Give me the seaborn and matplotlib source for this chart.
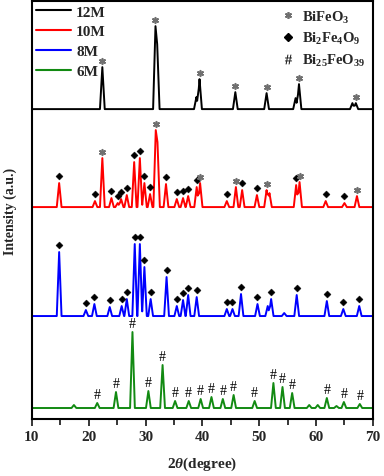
import numpy as np
import pandas as pd
import matplotlib
matplotlib.use("Agg")
import matplotlib.pyplot as plt
from matplotlib.lines import Line2D
import seaborn as sns

# ---------------------------------------------------------------- DATA
# peak positions (2theta), relative heights, phase mark ('*' BiFeO3, 'd' Bi2Fe4O9, '#' Bi25FeO39, '' none)
pos_12 = [22.4, 31.75, 32.05, 38.95, 39.5, 45.8, 51.3, 56.4, 57.0, 66.4, 67.0]
hgt_12 = [42, 83, 65, 12, 30, 17, 16, 11, 25, 6, 6]
mk_12 = ["*", "*", "", "", "*", "*", "*", "", "*", "", "*"]

pos_10 = [14.8, 21.1, 22.4, 24.0, 25.1, 25.7, 26.7, 28.0, 29.0, 29.8, 30.8, 31.8, 32.1,
          33.6, 35.5, 36.6, 37.5, 39.0, 39.6, 44.3, 45.9, 47.0, 49.6, 51.3, 51.8,
          56.5, 57.1, 61.7, 65.0, 67.2]
hgt_10 = [24, 6, 49, 9, 4, 8, 12, 45, 49, 24, 13, 77, 65,
          23, 8, 9, 11, 20, 24, 6, 20, 17, 12, 17, 14,
          22, 25, 6, 4, 11]
mk_10 = ["d", "d", "*", "d", "d", "d", "d", "d", "d", "d", "d", "*", "",
         "d", "d", "d", "d", "d", "*", "d", "*", "d", "d", "*", "",
         "d", "*", "d", "d", "*"]

pos_8 = [14.8, 19.5, 21.0, 23.7, 25.8, 26.7, 28.1, 29.0, 29.8, 30.9, 33.7, 35.5, 36.6,
         37.5, 39.0, 44.3, 45.3, 46.8, 49.7, 51.5, 52.1, 54.4, 56.6, 61.9, 64.8, 67.6]
hgt_8 = [64, 6, 12, 9, 10, 17, 72, 72, 49, 17, 39, 10, 16,
         21, 19, 7, 7, 22, 12, 10, 17, 3, 21, 15, 7, 10]
mk_8 = ["d", "d", "d", "d", "d", "d", "d", "d", "d", "d", "d", "d", "d",
        "d", "d", "d", "d", "d", "d", "", "d", "", "d", "d", "d", "d"]

pos_6 = [17.4, 21.5, 24.8, 27.7, 30.5, 33.0, 35.2, 37.6, 39.7, 41.6, 43.6, 45.5, 49.2,
         52.5, 54.1, 55.8, 58.8, 60.3, 61.9, 63.6, 64.9, 67.7]
hgt_6 = [3, 5, 16, 76, 17, 43, 7, 7, 9, 11, 9, 13, 7,
         25, 21, 15, 3, 3, 10, 2, 6, 4]
mk_6 = ["", "#", "#", "#", "#", "#", "#", "#", "#", "#", "#", "#", "#",
        "#", "#", "#", "", "", "#", "", "#", "#"]

samples = ["12M", "10M", "8M", "6M"]
offsets = [310, 212, 103, 11]
colors = ["black", "#ff0000", "#0000ff", "#128a12"]
peaks = [(pos_12, hgt_12, mk_12), (pos_10, hgt_10, mk_10),
         (pos_8, hgt_8, mk_8), (pos_6, hgt_6, mk_6)]

HW = 0.42  # half base width of a peak (deg)


def profile(pos, hgt, base):
    xs = sorted(set([10.0, 70.0] + [p + d for p in pos for d in (-HW, 0.0, HW)]))
    xs = np.array(xs)
    ys = np.zeros_like(xs)
    for p, h in zip(pos, hgt):
        ys = np.maximum(ys, np.interp(xs, [p - HW, p, p + HW], [0, h, 0]))
    return xs, ys + base


# ---------------------------------------------------------------- STYLE
sns.set_theme(style="ticks")
plt.rcParams["font.family"] = ["Liberation Serif", "DejaVu Serif"]
plt.rcParams["font.weight"] = "bold"
plt.rcParams["mathtext.fontset"] = "custom"
plt.rcParams["mathtext.rm"] = "Liberation Serif:bold"
plt.rcParams["mathtext.it"] = "Liberation Serif:italic:bold"
plt.rcParams["mathtext.bf"] = "Liberation Serif:bold"

fig = plt.figure(figsize=(3.84, 4.77), dpi=100)
ax = fig.add_axes([0.083, 0.1195, 0.888, 0.876])

for name, base, col, (pos, hgt, mk) in zip(samples, offsets, colors, peaks):
    xs, ys = profile(pos, hgt, base)
    sns.lineplot(x=xs, y=ys, color=col, lw=1.4, ax=ax, label=name,
                 estimator=None, sort=False)
    df = pd.DataFrame({"x": pos, "y": np.array(hgt) + base, "m": mk})
    d = df[df.m == "d"]
    s = df[df.m == "*"]
    h = df[df.m == "#"]
    if len(d):
        sns.scatterplot(x=d.x, y=d.y + 7, marker="D", s=13, color="black",
                        edgecolor="black", ax=ax, legend=False, zorder=5)
    if len(s):
        sns.scatterplot(x=s.x, y=s.y + 6, marker=(6, 2, 0), s=16, color="#707070",
                        linewidth=1.2, ax=ax, legend=False, zorder=5)
    for _, r in h.iterrows():
        ax.text(r.x, r.y + 2, "#", ha="center", va="bottom", fontsize=10,
                fontweight="normal", color="black")

ax.set_xlim(10, 70)
ax.set_ylim(0, 418)
ax.set_yticks([])
ax.set_xticks(range(10, 71, 10))
ax.set_xticks(range(15, 70, 10), minor=True)
ax.tick_params(axis="x", which="major", direction="out", length=5, width=1.3,
               labelsize=11, pad=3)
ax.tick_params(axis="x", which="minor", direction="out", length=4, width=1.3)
for sp in ax.spines.values():
    sp.set_linewidth(1.5)
    sp.set_color("black")

ax.set_xlabel(r"2$\theta$(degree)", fontsize=11, fontweight="bold")
ax.xaxis.set_label_coords(0.5, -0.085)
ax.set_ylabel("Intensity (a.u.)", fontsize=10, fontweight="bold")
ax.yaxis.set_label_coords(-0.045, 0.5)

leg1 = ax.legend(loc="upper left", frameon=False, fontsize=11, handlelength=2.3,
                 handletextpad=0.35, labelspacing=0.4, borderaxespad=0.0,
                 borderpad=0.25)
for l in leg1.get_lines():
    l.set_linewidth(1.5)
ax.add_artist(leg1)

phase_handles = [
    Line2D([], [], ls="", marker=(6, 2, 0), ms=5, mew=1.2, color="#707070"),
    Line2D([], [], ls="", marker="D", ms=4, color="black"),
    Line2D([], [], ls="", marker=r"$\#$", ms=7, mew=0, color="#222222"),
]
phase_labels = [r"BiFeO$_3$", r"Bi$_2$Fe$_4$O$_9$", r"Bi$_{25}$FeO$_{39}$"]
ax.legend(phase_handles, phase_labels, loc="upper right", frameon=False,
          fontsize=10.5, handlelength=1.0, handletextpad=0.5, labelspacing=0.4,
          borderaxespad=0.3, borderpad=0.2)

fig.savefig("out.png", dpi=100)
